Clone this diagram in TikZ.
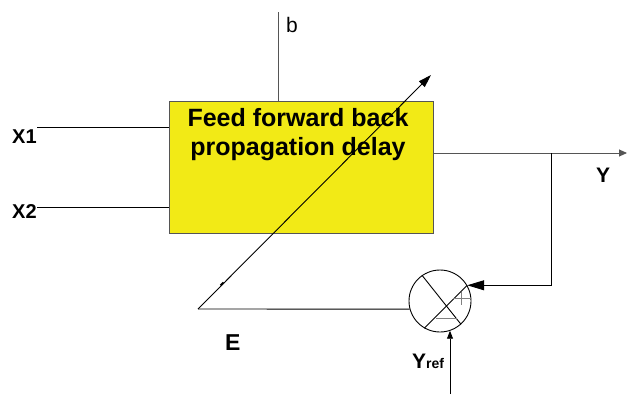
\documentclass[tikz,border=0pt]{standalone}
\usepackage{fontspec}
\setmainfont{Liberation Sans}
\usetikzlibrary{arrows.meta}
\definecolor{boxyellow}{RGB}{242,234,22}
\definecolor{linegray}{RGB}{85,85,85}
\definecolor{signgray}{RGB}{128,128,128}
\begin{document}
\begin{tikzpicture}[x=1pt,y=-1pt,
  wire/.style={line width=0.9pt, draw=black},
  graywire/.style={line width=0.9pt, draw=linegray},
  sign/.style={line width=1pt, draw=signgray},
  lbl/.style={inner sep=0pt, anchor=base west, font=\bfseries\fontsize{20}{24}\selectfont},
  ffbox/.style={draw=linegray, fill=boxyellow, line width=0.9pt, minimum width=264pt, minimum height=132pt, inner sep=0pt},
  boxtxt/.style={inner sep=0pt, anchor=base, font=\bfseries\fontsize{25}{29}\selectfont},
  sumj/.style={circle, draw=black, fill=white, minimum size=62pt, inner sep=0pt, line width=0.9pt},
  smalltip/.style={-{Triangle[length=8pt,width=7pt]}},
  bigtip/.style={-{Triangle[length=17pt,width=10pt]}}
]
\useasboundingbox (0,0) rectangle (627,394);

% main block
\node[ffbox] (ffb) at (301,167) {};
\node[boxtxt] (t1) at (298,126) {Feed forward back};
\node[boxtxt] (t2) at (298,155) {propagation delay};

% summing junction
\node[sumj] (sum) at (440,301) {};
\draw[wire] (sum.125) -- (sum.-48);
\draw[wire] (sum.30) -- (sum.240);
\draw[sign] (453,298) -- (470.5,298);
\draw[sign] (461.7,291.5) -- (461.7,305);
\draw[sign] (436,318.3) -- (456.7,318.3);

% inputs
\coordinate (x1s) at (37,127);
\coordinate (x2s) at (37,207);
\coordinate (btop) at (278,12);
\draw[wire] (x1s) -- (x1s -| ffb.west);
\draw[wire] (x2s) -- (x2s -| ffb.west);
\draw[graywire] (btop) -- (btop |- ffb.north);

% output and feedback
\coordinate (yout) at (627,153);
\coordinate (br) at (551,153);
\draw[graywire, smalltip] (ffb.east |- yout) -- (yout);
\draw[wire, bigtip] (br) |- (sum.30);

% reference input
\coordinate (yrefs) at (450,394);
\draw[wire, -{Triangle[length=8pt,width=6pt]}] (yrefs) -- (yrefs |- sum.-71);

% error path
\coordinate (ecorner) at (198,309);
\coordinate (etip) at (431,75);
\draw[wire] (sum.195) -- (ecorner);
\draw[wire, -{Triangle[length=13pt,width=8pt]}] (ecorner) -- (etip);
\draw[line width=1.8pt] (220.6,285.4) -- (223.6,282.4);

% labels
\node[lbl] (lx1) at (12,143) {X1};
\node[lbl] (lx2) at (12,218) {X2};
\node[lbl, font=\fontsize{21}{24}\selectfont] (lb) at (286,32) {b};
\node[lbl, font=\bfseries\fontsize{21}{24}\selectfont] (ly) at (596,182) {Y};
\node[lbl, font=\bfseries\fontsize{23}{26}\selectfont] (le) at (225,350) {E};
\node[lbl, font=\bfseries\fontsize{21}{24}\selectfont] (lyref) at (412,368) {Y\fontsize{14}{16}\selectfont ref};
\end{tikzpicture}
\end{document}
